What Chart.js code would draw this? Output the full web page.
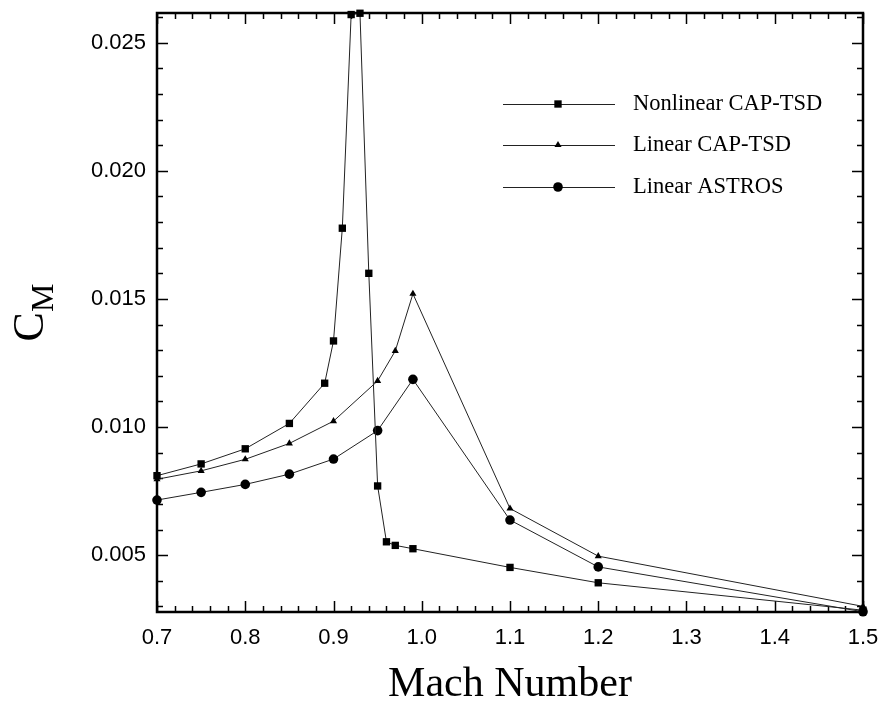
<!DOCTYPE html>
<html>
<head>
<meta charset="utf-8">
<script src="https://cdn.jsdelivr.net/npm/chart.js@4"></script>
<style>
  body { margin: 0; background: #fff; }
</style>
</head>
<body>
<canvas id="cmChart" width="880" height="706"></canvas>
<script>
// Pitching moment coefficient vs Mach number
const machNonlinear = [0.70, 0.75, 0.80, 0.85, 0.89, 0.90, 0.91, 0.92, 0.93, 0.94, 0.95, 0.96, 0.97, 0.99, 1.10, 1.20, 1.50];
const cmNonlinear = [0.0081, 0.00856, 0.00915, 0.01014, 0.01171, 0.01336, 0.01776, 0.0261, 0.02615, 0.0160, 0.0077, 0.00552, 0.00538, 0.00525, 0.00452, 0.00392, 0.00285];

const machLinearCap = [0.70, 0.75, 0.80, 0.85, 0.90, 0.95, 0.97, 0.99, 1.10, 1.20, 1.50];
const cmLinearCap = [0.00796, 0.00829, 0.00874, 0.00936, 0.01023, 0.0118, 0.01297, 0.0152, 0.00682, 0.00496, 0.0030];

const machAstros = [0.70, 0.75, 0.80, 0.85, 0.90, 0.95, 0.99, 1.10, 1.20, 1.50];
const cmAstros = [0.00715, 0.00745, 0.00776, 0.00816, 0.00875, 0.00986, 0.01186, 0.00637, 0.00454, 0.00279];

const seriesNames = ['Nonlinear CAP-TSD', 'Linear CAP-TSD', 'Linear ASTROS'];

const xTicks = [0.7, 0.8, 0.9, 1.0, 1.1, 1.2, 1.3, 1.4, 1.5];
const yTicks = [0.005, 0.010, 0.015, 0.020, 0.025];

const SANS = '"Liberation Sans", Arial, Helvetica, sans-serif';
const SERIF = '"Liberation Serif", "Times New Roman", Times, serif';

function toPoints(xs, ys) {
    return xs.map((x, i) => ({ x, y: ys[i] }));
}

function series(label, xs, ys, style, radius) {
    return {
        label,
        data: toPoints(xs, ys),
        borderColor: '#222',
        borderWidth: 1,
        pointStyle: style,
        pointRadius: radius,
        pointBackgroundColor: '#000',
        pointBorderColor: '#000',
        pointBorderWidth: 0,
        tension: 0,
        clip: false
    };
}

// frame with inward major/minor ticks on all four sides
const framePlugin = {
    id: 'frame',
    beforeDatasetsDraw(chart) {
        const { ctx, chartArea: a, scales: { x, y } } = chart;
        ctx.save();
        ctx.strokeStyle = '#000';
        ctx.lineWidth = 1.5;
        ctx.beginPath();
        for (let i = 0; i <= 40; i++) {
            const v = 0.7 + i * 0.02;
            const px = Math.round(x.getPixelForValue(v)) + 0.5;
            const len = i % 5 === 0 ? 11 : 6;
            ctx.moveTo(px, a.bottom); ctx.lineTo(px, a.bottom - len);
            ctx.moveTo(px, a.top); ctx.lineTo(px, a.top + len);
        }
        for (let i = 3; i <= 26; i++) {
            const v = i / 1000;
            const py = Math.round(y.getPixelForValue(v)) + 0.5;
            const len = i % 5 === 0 ? 11 : 6;
            ctx.moveTo(a.left, py); ctx.lineTo(a.left + len, py);
            ctx.moveTo(a.right, py); ctx.lineTo(a.right - len, py);
        }
        ctx.stroke();
        ctx.lineWidth = 2.5;
        ctx.strokeRect(a.left, a.top, a.right - a.left, a.bottom - a.top);
        ctx.restore();
    },
    afterDraw(chart) {
        const { ctx, chartArea: a } = chart;
        ctx.save();
        // y axis title: C with subscript M
        ctx.translate(43, (a.top + a.bottom) / 2);
        ctx.rotate(-Math.PI / 2);
        ctx.fillStyle = '#000';
        ctx.textBaseline = 'alphabetic';
        ctx.font = '44px ' + SERIF;
        const cw = ctx.measureText('C').width;
        ctx.font = '32px ' + SERIF;
        const mw = ctx.measureText('M').width;
        const startX = -(cw + mw) / 2;
        ctx.font = '44px ' + SERIF;
        ctx.fillText('C', startX, 0);
        ctx.font = '32px ' + SERIF;
        ctx.fillText('M', startX + cw, 10);
        ctx.restore();

        // legend
        const rows = [104, 145, 187];
        ctx.save();
        chart.data.datasets.forEach((ds, i) => {
            const yy = rows[i];
            ctx.strokeStyle = ds.borderColor;
            ctx.lineWidth = 1;
            ctx.beginPath();
            ctx.moveTo(503, yy + 0.5);
            ctx.lineTo(615, yy + 0.5);
            ctx.stroke();
            ctx.fillStyle = '#000';
            Chart.helpers.drawPoint(ctx, {
                pointStyle: ds.pointStyle,
                radius: ds.pointRadius,
                borderWidth: 0,
                rotation: 0
            }, 558, yy);
            ctx.font = '22.5px ' + SERIF;
            ctx.textBaseline = 'middle';
            ctx.fillText(seriesNames[i], 633, yy);
        });
        ctx.restore();
    }
};

new Chart(document.getElementById('cmChart'), {
    type: 'line',
    data: {
        datasets: [
            series(seriesNames[0], machNonlinear, cmNonlinear, 'rect', 5.2),
            series(seriesNames[1], machLinearCap, cmLinearCap, 'triangle', 4.1),
            series(seriesNames[2], machAstros, cmAstros, 'circle', 4.8)
        ]
    },
    options: {
        responsive: false,
        animation: false,
        layout: { padding: { top: 13, right: 17, left: 0, bottom: 0 } },
        plugins: {
            legend: { display: false },
            tooltip: { enabled: false }
        },
        scales: {
            x: {
                type: 'linear',
                min: 0.7,
                max: 1.5,
                afterBuildTicks: s => { s.ticks = xTicks.map(v => ({ value: v })); },
                afterFit: s => {
                    s.height = 94;
                    s.paddingLeft = 0;
                    s.paddingRight = 0;
                },
                grid: { display: false, drawTicks: false },
                border: { display: false },
                ticks: {
                    padding: 13,
                    color: '#000',
                    font: { family: SANS, size: 22 },
                    callback: v => v.toFixed(1)
                },
                title: {
                    display: true,
                    text: 'Mach Number',
                    color: '#000',
                    font: { family: SERIF, size: 42, lineHeight: 1 },
                    padding: 0
                }
            },
            y: {
                type: 'linear',
                min: 0.00278,
                max: 0.02616,
                afterBuildTicks: s => { s.ticks = yTicks.map(v => ({ value: v })); },
                afterFit: s => {
                    s.width = 157;
                    s.paddingTop = 0;
                    s.paddingBottom = 0;
                },
                grid: { display: false, drawTicks: false },
                border: { display: false },
                ticks: {
                    padding: 11,
                    color: '#000',
                    font: { family: SANS, size: 22 },
                    callback: v => v.toFixed(3)
                }
            }
        }
    },
    plugins: [framePlugin]
});
</script>
</body>
</html>
